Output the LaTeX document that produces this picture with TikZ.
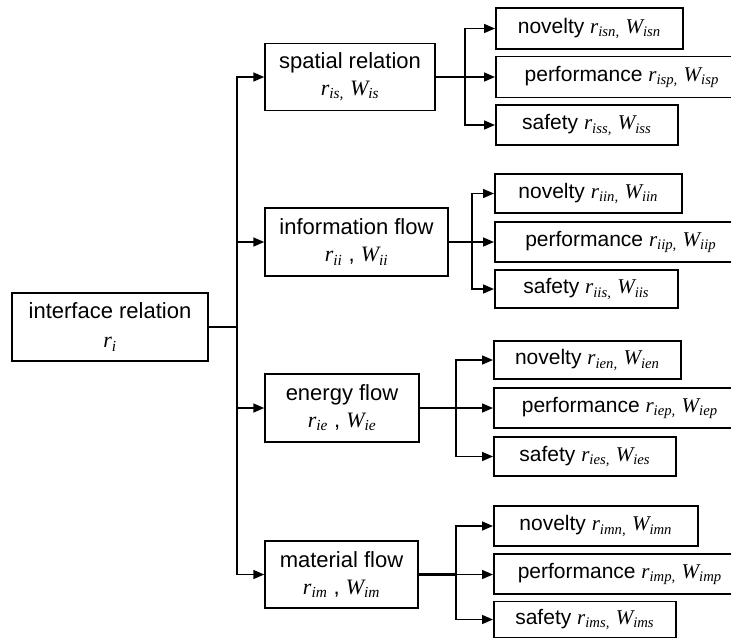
\documentclass[tikz,border=0pt]{standalone}
\usepackage{fontspec}
\setmainfont{Liberation Sans}
\newfontfamily\tms{Liberation Serif}
\usetikzlibrary{arrows.meta}

% italic variable with a subscript, e.g. \rv{r}{is}
\newcommand\rv[2]{{\tms\itshape #1\textsubscript{#2}}}

\tikzset{
  box/.style={draw, line width=1.5pt, inner sep=0pt, align=center},
  topbox/.style={box, font=\fontsize{22}{27}\selectfont},
  leaf/.style={box, anchor=west, minimum height=40pt, font=\fontsize{21}{24}\selectfont},
  arr/.style={line width=1.6pt, -{Triangle[length=11pt,width=9pt]}},
  link/.style={line width=1.4pt},
  heavy/.style={line width=2.2pt},
}

\begin{document}
\begin{tikzpicture}[x=1pt,y=-1pt]
\useasboundingbox (0,0) rectangle (731,638);

% root
\node[topbox, minimum width=196pt, minimum height=68pt] (root) at (110,327)
  {interface relation\\[2pt]{\tms\itshape r\textsubscript{i}}};

% second level
\node[topbox, minimum width=170pt, minimum height=67pt] (sp) at (350,77)
  {spatial relation\\\rv{r}{is,} \rv{W}{is}};
\node[topbox, minimum width=183pt, minimum height=68pt] (inf) at (356.5,242)
  {information flow\\\rv{r}{ii} , \rv{W}{ii}};
\node[topbox, minimum width=154pt, minimum height=68pt] (en) at (342,408)
  {energy flow\\\rv{r}{ie} , \rv{W}{ie}};
\node[topbox, minimum width=153pt, minimum height=67pt] (ma) at (341.5,574.5)
  {material flow\\\rv{r}{im} , \rv{W}{im}};

% third level: spatial relation
\node[leaf, minimum width=187pt, minimum height=41pt] (spn) at (495,28.5) {novelty \rv{r}{isn,} \rv{W}{isn}};
\node[leaf, minimum width=252pt, minimum height=41pt] (spp) at (495,77) {performance \rv{r}{isp,} \rv{W}{isp}};
\node[leaf, minimum width=182pt] (sps) at (495,125) {safety \rv{r}{iss,} \rv{W}{iss}};

% third level: information flow
\node[leaf, minimum width=187pt, minimum height=39pt] (inn) at (494,193.5) {novelty \rv{r}{iin,} \rv{W}{iin}};
\node[leaf, minimum width=252pt] (inp) at (494,242) {performance \rv{r}{iip,} \rv{W}{iip}};
\node[leaf, minimum width=183pt, minimum height=38pt] (ins) at (494,289) {safety \rv{r}{iis,} \rv{W}{iis}};

% third level: energy flow
\node[leaf, minimum width=187pt, minimum height=38pt] (enn) at (493,360) {novelty \rv{r}{ien,} \rv{W}{ien}};
\node[leaf, minimum width=252pt] (enp) at (493,408) {performance \rv{r}{iep,} \rv{W}{iep}};
\node[leaf, minimum width=182pt, minimum height=39pt] (ens) at (493,456.5) {safety \rv{r}{ies,} \rv{W}{ies}};

% third level: material flow
\node[leaf, minimum width=204pt] (man) at (493,526) {novelty \rv{r}{imn,} \rv{W}{imn}};
\node[leaf, minimum width=252pt] (map) at (493,574) {performance \rv{r}{imp,} \rv{W}{imp}};
\node[leaf, minimum width=182pt, minimum height=36pt] (mas) at (493,619.5) {safety \rv{r}{ims,} \rv{W}{ims}};

% trunk from the root to the second level
\coordinate (trunk) at (237,327);
\draw[heavy] (root.east) -- (trunk);
\draw[heavy] (237,77) -- (237,574.5);
\foreach \n in {sp,inf,en,ma}
  \draw[arr] (trunk) |- (\n.west);

% branches from the second level to the third
\coordinate (bs) at (465,77);
\coordinate (bi) at (472,242);
\coordinate (be) at (456,408);
\coordinate (bm) at (456,574.5);

\draw[heavy] (sp.east) -- (bs);
\draw[link] (inf.east) -- (bi);
\draw[link] (en.east) -- (be);
\draw[heavy] (ma.east) -- (bm);

\foreach \b/\g in {bs/sp,bi/in,be/en,bm/ma}{
  \draw[arr] (\b) |- (\g n.west);
  \draw[arr] (\b) -- (\b -| \g p.west);
  \draw[arr] (\b) |- (\g s.west);
}
\end{tikzpicture}
\end{document}
